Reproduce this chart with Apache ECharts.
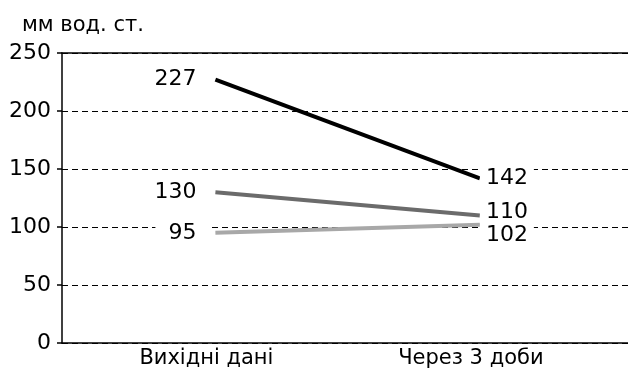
<!DOCTYPE html>
<html><head><meta charset="utf-8">
<script src="https://cdn.jsdelivr.net/npm/echarts@6/dist/echarts.min.js"></script>
<style>html,body{margin:0;padding:0;background:#fff}#c{width:628px;height:374px}</style>
</head><body><div id="c"></div>
<script>
var categories = ['Вихідні дані', 'Через 3 доби'];
var seriesBlack = [227, 142];
var seriesDark = [130, 110];
var seriesLight = [95, 102];
var yTicks = [0, 50, 100, 150, 200, 250];
var unitLabel = 'мм вод. ст.';

var FONT = '"DejaVu Sans", sans-serif';
var FS = 22;
function mkSeries(data, color, rOff){
  return {
    type: 'line', symbol: 'circle', symbolSize: 0, showSymbol: true,
    data: data.map(function(v, i){
      var d = {value: [i, v]};
      if (i === 1) d.label = {position: 'right', distance: 0, padding: [0, 6, 0, 6], offset: [0, rOff]};
      return d;
    }),
    lineStyle: {color: color, width: 4}, itemStyle: {color: color},
    z: 3,
    label: {show: true, fontFamily: FONT, fontSize: FS, color: '#000',
      backgroundColor: '#fff', padding: [0, 13, 0, 13],
      formatter: function(p){ return String(p.value[1]); },
      position: 'left', distance: 6},
    emphasis: {disabled: true},
    animation: false
  };
}

var chart = echarts.init(document.getElementById('c'), null, {renderer: 'canvas'});
chart.setOption({
  animation: false,
  backgroundColor: '#fff',
  title: {text: unitLabel, left: 17, top: 10, textStyle: {fontFamily: FONT, fontSize: 21, fontWeight: 'normal', color: '#000'}},
  grid: {left: 62, right: 0, top: 53, bottom: 31, containLabel: false},
  xAxis: [{
    type: 'value', min: -0.58, max: 1.56,
    axisLine: {show: true, lineStyle: {color: '#000', width: 1.5}},
    axisTick: {show: false},
    splitLine: {show: false},
    axisLabel: {customValues: [0, 1], fontFamily: FONT, fontSize: 21, color: '#000', margin: 5,
      padding: [0, 18, 0, 0],
      formatter: function(v){ var i = Math.round(v); return categories[i] || ''; }}
  }, {
    type: 'value', position: 'top', min: -0.58, max: 1.56,
    axisLine: {show: true, lineStyle: {color: '#000', width: 1.5}},
    axisTick: {show: false}, axisLabel: {show: false}, splitLine: {show: false}
  }],
  yAxis: {
    type: 'value', min: yTicks[0], max: yTicks[yTicks.length-1], interval: 50,
    axisLine: {show: true, onZero: false, lineStyle: {color: '#000', width: 1.5}},
    axisTick: {show: true, inside: false, length: 5, lineStyle: {color: '#000', width: 1.5}},
    axisLabel: {fontFamily: FONT, fontSize: FS, color: '#000', margin: 11},
    splitLine: {show: true, lineStyle: {color: '#000', width: 1, type: [6, 4]}}
  },
  series: [mkSeries(seriesBlack, '#000000', 0), mkSeries(seriesDark, '#6b6b6b', -3), mkSeries(seriesLight, '#a8a8a8', 11)]
});
</script></body></html>
